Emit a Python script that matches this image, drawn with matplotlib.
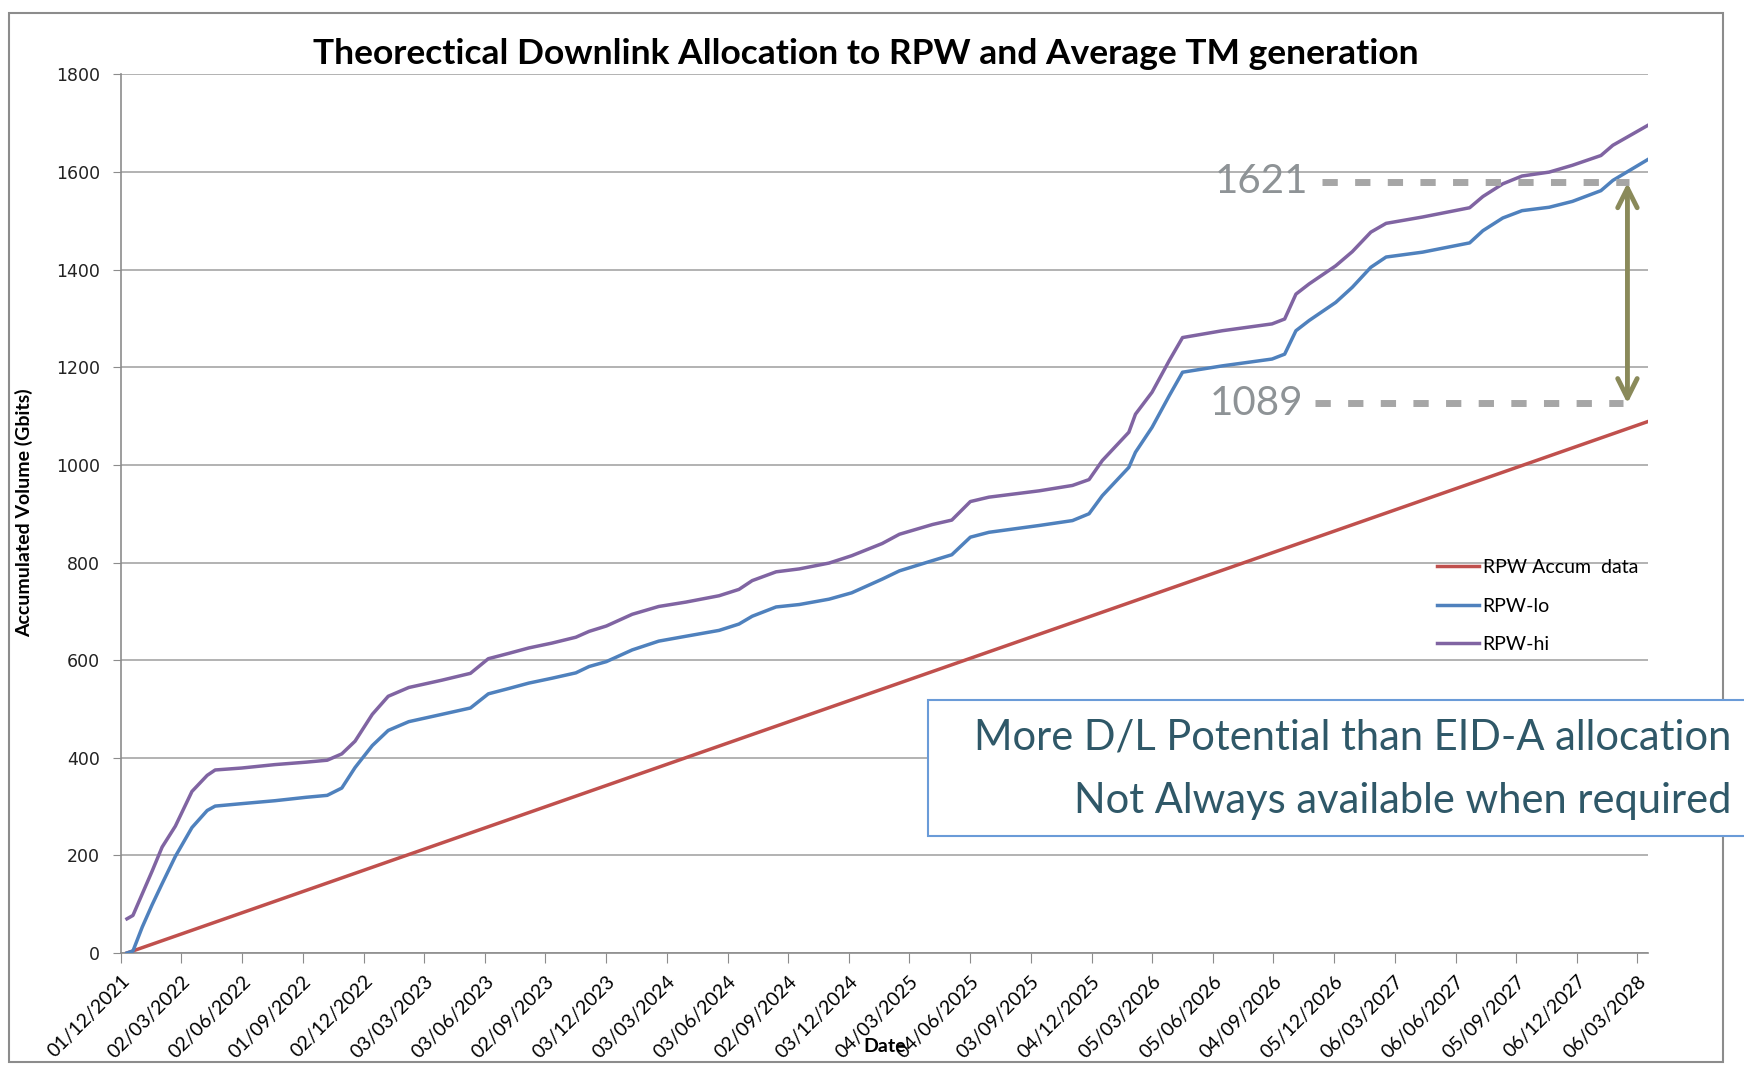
import matplotlib
matplotlib.use('Agg')
import matplotlib.pyplot as plt
import numpy as np
import pandas as pd
from matplotlib.patches import Rectangle
from matplotlib.transforms import ScaledTranslation

plt.rcParams['font.family'] = ['Lato', 'DejaVu Sans']

# days since 01/12/2021
start = np.datetime64('2021-12-01')
day = [9, 18, 32, 47, 62, 82, 107, 130, 142, 182,
       232, 279, 311, 333, 353, 379, 403, 434, 484, 527,
       554, 585, 615, 650, 686, 706, 732, 771, 811, 852,
       902, 932, 952, 988, 1023, 1068, 1102, 1148, 1174, 1224,
       1253, 1281, 1309, 1385, 1435, 1460, 1480, 1520, 1530, 1555,
       1581, 1601, 1661, 1736, 1755, 1772, 1792, 1832, 1857, 1885,
       1908, 1963, 2034, 2054, 2084, 2113, 2154, 2189, 2232, 2250, 2303]

rpw_lo = [0, 4, 53, 99, 142, 198, 257, 292, 301, 306,
          312, 319, 323, 338, 380, 425, 456, 474, 489, 502,
          531, 542, 553, 563, 574, 587, 597, 621, 639, 649,
          661, 674, 690, 709, 714, 725, 738, 766, 783, 804,
          816, 852, 862, 876, 886, 900, 937, 995, 1026, 1077,
          1142, 1190, 1203, 1217, 1227, 1275, 1296, 1333, 1364, 1405,
          1426, 1436, 1455, 1480, 1506, 1521, 1528, 1540, 1562, 1583, 1626]

rpw_hi = [70, 77, 121, 168, 217, 260, 331, 364, 375, 379,
          386, 391, 395, 408, 434, 489, 526, 544, 559, 573,
          603, 614, 625, 635, 647, 659, 670, 694, 710, 719,
          732, 745, 763, 781, 787, 799, 814, 839, 858, 878,
          887, 925, 934, 947, 958, 970, 1009, 1067, 1104, 1149,
          1214, 1261, 1275, 1289, 1299, 1350, 1371, 1408, 1437, 1477,
          1495, 1508, 1527, 1550, 1576, 1592, 1600, 1614, 1634, 1655, 1696]

accum_day = [9, 2303]
accum_val = [0, 1089]

tick_labels = ['01/12/2021', '02/03/2022', '02/06/2022', '01/09/2022', '02/12/2022',
               '03/03/2023', '03/06/2023', '02/09/2023', '03/12/2023', '03/03/2024',
               '03/06/2024', '02/09/2024', '03/12/2024', '04/03/2025', '04/06/2025',
               '03/09/2025', '04/12/2025', '05/03/2026', '05/06/2026', '04/09/2026',
               '05/12/2026', '06/03/2027', '06/06/2027', '05/09/2027', '06/12/2027',
               '06/03/2028']

hi_note, lo_note = '1621', '1089'

dates = start + np.array(day, dtype='timedelta64[D]')
accum_dates = start + np.array(accum_day, dtype='timedelta64[D]')
tick_pos = pd.to_datetime(tick_labels, format='%d/%m/%Y')

W, H = 1744, 1065
fig = plt.figure(figsize=(W / 100, H / 100), dpi=100)
ax = fig.add_axes([121 / W, 1 - 953 / H, (1648 - 121) / W, (953 - 74.5) / H])

# chart border
fig.add_artist(Rectangle((9 / W, 1 - 1062 / H), (1723 - 9) / W, (1062 - 13) / H,
                         transform=fig.transFigure, fill=False, edgecolor='#8c8c8c', lw=1.5))

ax.plot(accum_dates, accum_val, color='#c0504d', lw=2.5, label='RPW Accum  data', zorder=3)
ax.plot(dates, rpw_lo, color='#4f81bd', lw=2.5, label='RPW-lo', zorder=3)
ax.plot(dates, rpw_hi, color='#8064a2', lw=2.5, label='RPW-hi', zorder=3)

ax.set_xlim(start, dates[-1])
ax.set_ylim(0, 1800)
ax.set_yticks(range(0, 1801, 200))
ax.set_xticks(tick_pos)
ax.set_xticklabels(tick_labels, rotation=45, ha='right', va='top', rotation_mode='anchor', fontsize=14)
shift = ScaledTranslation(4 / 100, 0, fig.dpi_scale_trans)
for lab in ax.get_xticklabels():
    lab.set_transform(lab.get_transform() + shift)
ax.tick_params(axis='x', length=7, color='#8c8c8c', pad=7)
ax.tick_params(axis='y', length=6, color='#8c8c8c', pad=9, labelsize=12.5, labelcolor='#222222')
for lab in ax.get_yticklabels():
    lab.set_family('DejaVu Sans')
ax.grid(axis='y', color='#a6a6a6', lw=1.2)
ax.set_axisbelow(True)
for s in ['top', 'right']:
    ax.spines[s].set_visible(False)
for s in ['left', 'bottom']:
    ax.spines[s].set_color('#8c8c8c')
    ax.spines[s].set_linewidth(1.2)

fig.text(866 / W, 1 - 54 / H, 'Theorectical Downlink Allocation to RPW and Average TM generation',
         ha='center', va='center', fontsize=25.5, fontweight='bold')
fig.text(24.5 / W, 1 - 513 / H, 'Accumulated Volume (Gbits)', rotation=90,
         ha='center', va='center', fontsize=14, fontweight='bold')
fig.text(885 / W, 1 - 1047 / H, 'Date', ha='center', va='center', fontsize=14, fontweight='bold')

ax.legend(loc='center left', bbox_to_anchor=(1437 / W, 1 - 606 / H), bbox_transform=fig.transFigure,
          frameon=False, fontsize=14, handlelength=2.15, handletextpad=0.2, labelspacing=1.1,
          borderpad=0, borderaxespad=0)

# annotation of the gap at the end
day_ax = lambda d: start + np.timedelta64(d, 'D')
gray = '#a6a6a6'
ax.plot([day_ax(1811), day_ax(2275)], [1580, 1580], color=gray, lw=5, ls=(0, (2.2, 2.5)),
        solid_capstyle='butt', zorder=4)
ax.plot([day_ax(1801), day_ax(2266)], [1126, 1126], color=gray, lw=5, ls=(0, (2.2, 2.5)),
        solid_capstyle='butt', zorder=4)
ax.text(day_ax(1790), 1580, hi_note, ha='right', va='center', fontsize=29, color='#8e9396')
ax.text(day_ax(1783), 1126, lo_note, ha='right', va='center', fontsize=29, color='#8e9396')
ax.annotate('', xy=(day_ax(2272), 1126), xytext=(day_ax(2272), 1578),
            arrowprops=dict(arrowstyle='<->', color='#8a8a5a', lw=3.5, mutation_scale=35,
                            shrinkA=0, shrinkB=0), zorder=5)

# text box
fig.add_artist(Rectangle((927.6 / W, 1 - 836.4 / H), 0.6, (836.4 - 699.6) / H,
                         transform=fig.transFigure, facecolor='white', edgecolor='#6a9bd8', lw=1.5,
                         zorder=6))
fig.text(1731 / W, 1 - 737 / H, 'More D/L Potential than EID-A allocation', ha='right', va='center',
         fontsize=30, color='#2f5868', zorder=7)
fig.text(1731 / W, 1 - 801 / H, 'Not Always available when required', ha='right', va='center',
         fontsize=30, color='#2f5868', zorder=7)

fig.savefig('out.png', dpi=100)
